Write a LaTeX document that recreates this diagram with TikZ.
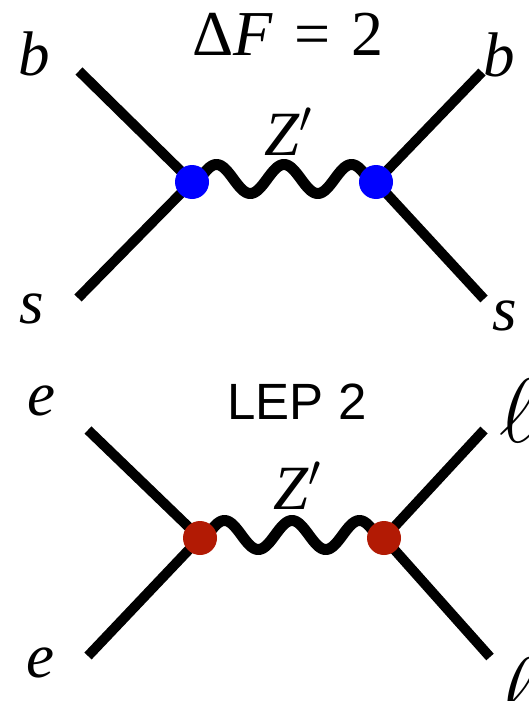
\RequirePackage{fix-cm}
\documentclass[tikz,border=0pt]{standalone}
\usepackage{fontspec}
\setmainfont{Liberation Serif}
\newfontfamily\sansf{Liberation Sans}
\definecolor{vblue}{RGB}{0,0,255}
\definecolor{vred}{RGB}{178,26,4}
\tikzset{
  leg/.style={line width=10pt, line cap=butt},
  wave/.style={line width=11pt, line cap=round, line join=round},
  lab/.style={inner sep=0pt, font=\fontsize{63}{63}\selectfont},
  ell/.style={inner sep=0pt, scale=1.45, font=\fontsize{63}{63}\selectfont},
  heading/.style={inner sep=0pt, font=\fontsize{64}{64}\selectfont},
  lep/.style={inner sep=0pt, font=\sansf\fontsize{51}{51}\selectfont},
}
\begin{document}
\begin{tikzpicture}[x=1pt,y=-1pt]
\useasboundingbox (0,0) rectangle (529,701);
% ---- top diagram
\coordinate (v1) at (192,182);
\coordinate (v2) at (376,182);
\coordinate (tl) at (79,71);
\coordinate (bl) at (78,298);
\coordinate (tr) at (482,72);
\coordinate (br) at (484,299);
\draw[leg] (tl) -- (v1) -- (bl);
\draw[leg] (tr) -- (v2) -- (br);
\begin{scope}[shift={(v1)}]
\draw[wave] plot[domain=0:184,samples=160,smooth] (\x,{-3-14.5*cos(5.33333*(\x-92))});
\end{scope}
\fill[vblue] (v1) circle[radius=17pt];
\fill[vblue] (v2) circle[radius=17pt];
\node[lab] (b1) at (34,54) {\itshape b};
\node[lab] (b2) at (499,55) {\itshape b};
\node[heading] (title) at (288,34) {Δ\textit{F}\,\,=\,\,2};
\node[lab] (z1) at (288,132) {\itshape Z$'$};
\node[lab] (s1) at (32,309) {\itshape s};
\node[lab] (s2) at (505,316) {\itshape s};
% ---- bottom diagram
\coordinate (v3) at (200,538);
\coordinate (v4) at (384,538);
\coordinate (tl2) at (88,430);
\coordinate (bl2) at (88,656);
\coordinate (tr2) at (484,430);
\coordinate (br2) at (490,657);
\draw[leg] (tl2) -- (v3) -- (bl2);
\draw[leg] (tr2) -- (v4) -- (br2);
\begin{scope}[shift={(v3)}]
\draw[wave] plot[domain=0:184,samples=160,smooth] (\x,{-3-14.5*cos(5.33333*(\x-92))});
\end{scope}
\fill[vred] (v3) circle[radius=17pt];
\fill[vred] (v4) circle[radius=17pt];
\node[lab] (e1) at (41,401) {\itshape e};
\node[lep] (lep) at (297,402) {LEP 2};
\node[ell] (l1) at (518,411) {$\ell$};
\node[lab] (z2) at (297,486) {\itshape Z$'$};
\node[lab] (e2) at (40,663) {\itshape e};
\node[ell] (l2) at (518,690) {$\ell$};
\end{tikzpicture}
\end{document}
